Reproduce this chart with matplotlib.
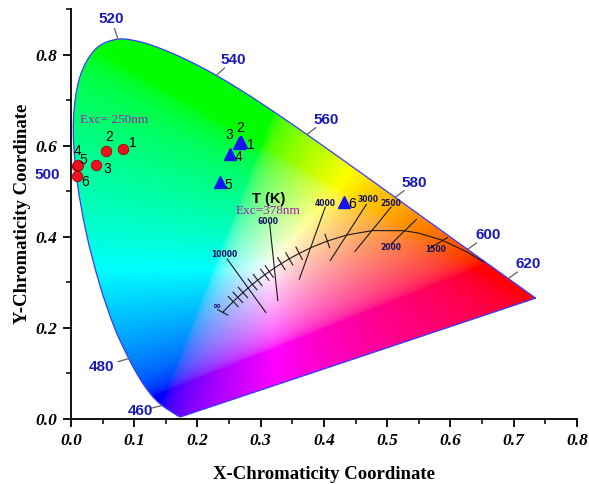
import numpy as np
import matplotlib.pyplot as plt
from matplotlib.patches import PathPatch
from matplotlib.path import Path

# CIE 1931 spectral locus (5 nm steps, 380-700 nm)
wl = [380, 385, 390, 395, 400, 405, 410, 415, 420, 425, 430, 435, 440, 445,
      450, 455, 460, 465, 470, 475, 480, 485, 490, 495, 500, 505, 510, 515,
      520, 525, 530, 535, 540, 545, 550, 555, 560, 565, 570, 575, 580, 585,
      590, 595, 600, 605, 610, 615, 620, 625, 630, 635, 640, 645, 650, 655,
      660, 665, 670, 675, 680, 685, 690, 695, 700]
loc_x = [0.1741, 0.1740, 0.1738, 0.1736, 0.1733, 0.1730, 0.1726, 0.1721,
         0.1714, 0.1703, 0.1689, 0.1669, 0.1644, 0.1611, 0.1566, 0.1510,
         0.1440, 0.1355, 0.1241, 0.1096, 0.0913, 0.0687, 0.0454, 0.0235,
         0.0082, 0.0039, 0.0139, 0.0389, 0.0743, 0.1142, 0.1547, 0.1929,
         0.2296, 0.2658, 0.3016, 0.3373, 0.3731, 0.4087, 0.4441, 0.4788,
         0.5125, 0.5448, 0.5752, 0.6029, 0.6270, 0.6482, 0.6658, 0.6801,
         0.6915, 0.7006, 0.7079, 0.7140, 0.7190, 0.7230, 0.7260, 0.7283,
         0.7300, 0.7311, 0.7320, 0.7327, 0.7334, 0.7340, 0.7344, 0.7346, 0.7347]
loc_y = [0.0050, 0.0050, 0.0049, 0.0049, 0.0048, 0.0048, 0.0048, 0.0048,
         0.0051, 0.0058, 0.0069, 0.0086, 0.0109, 0.0138, 0.0177, 0.0227,
         0.0297, 0.0399, 0.0578, 0.0868, 0.1327, 0.2007, 0.2950, 0.4127,
         0.5384, 0.6548, 0.7502, 0.8120, 0.8338, 0.8262, 0.8059, 0.7816,
         0.7543, 0.7243, 0.6923, 0.6589, 0.6245, 0.5896, 0.5547, 0.5202,
         0.4866, 0.4544, 0.4242, 0.3965, 0.3725, 0.3514, 0.3340, 0.3197,
         0.3083, 0.2993, 0.2920, 0.2859, 0.2809, 0.2770, 0.2740, 0.2717,
         0.2700, 0.2689, 0.2680, 0.2673, 0.2666, 0.2660, 0.2656, 0.2654, 0.2653]

# wavelength labels and where they sit
wl_marks = [460, 480, 500, 520, 540, 560, 580, 600, 620]
wl_lab_x = [0.110, 0.048, -0.038, 0.064, 0.257, 0.403, 0.543, 0.659, 0.723]
wl_lab_y = [0.018, 0.115, 0.535, 0.878, 0.788, 0.657, 0.518, 0.404, 0.340]

# Planckian locus
pl_T = [1000, 1200, 1500, 1800, 2000, 2500, 3000, 3500, 4000, 4500, 5000,
        5500, 6000, 6500, 7000, 8000, 9000, 10000, 12000, 15000, 20000, 30000]
pl_x = [0.6528, 0.6251, 0.5857, 0.5493, 0.5267, 0.4770, 0.4369, 0.4053,
        0.3805, 0.3608, 0.3451, 0.3325, 0.3221, 0.3135, 0.3064, 0.2952,
        0.2869, 0.2807, 0.2719, 0.2637, 0.2565, 0.2501]
pl_y = [0.3444, 0.3674, 0.3931, 0.4082, 0.4133, 0.4137, 0.4041, 0.3907,
        0.3768, 0.3636, 0.3516, 0.3411, 0.3318, 0.3237, 0.3166, 0.3048,
        0.2956, 0.2883, 0.2776, 0.2672, 0.2577, 0.2489]
inf_x, inf_y = 0.2399, 0.2341
tick_T = [3500, 4500, 5000, 5500, 6500, 7000, 8000, 9000, 12000, 15000, 20000]

# isotemperature lines
iso_lab = ['10000', '6000', '4000', '3000', '2500', '2000', '1500']
iso_x0 = [0.247, 0.314, 0.402, 0.467, 0.506, 0.546, 0.595]
iso_y0 = [0.351, 0.430, 0.465, 0.471, 0.465, 0.438, 0.398]
iso_x1 = [0.308, 0.327, 0.361, 0.410, 0.449, 0.506, 0.565]
iso_y1 = [0.234, 0.260, 0.307, 0.348, 0.368, 0.384, 0.373]
iso_lab_x = [0.243, 0.311, 0.402, 0.469, 0.505, 0.506, 0.576]
iso_lab_y = [0.362, 0.434, 0.474, 0.481, 0.472, 0.377, 0.371]

# samples
exc250_lab = ['1', '2', '3', '4', '5', '6']
exc250_x = [0.082, 0.055, 0.039, 0.009, 0.011, 0.009]
exc250_y = [0.592, 0.588, 0.557, 0.556, 0.558, 0.534]
exc378_lab = ['1', '2', '3', '4', '5', '6']
exc378_x = [0.269, 0.267, 0.266, 0.252, 0.236, 0.431]
exc378_y = [0.607, 0.609, 0.606, 0.581, 0.521, 0.476]

fig = plt.figure(figsize=(5.89, 4.84), dpi=100)
ax = fig.add_axes([0.1205, 0.1343, 0.8591, 0.8471])
PX, PY = 633.0, 456.0  # pixels per unit on each axis

# smooth horseshoe outline (Catmull-Rom through the locus points)
pts = np.column_stack([loc_x, loc_y])
n = len(pts)
verts, codes = [pts[0]], [Path.MOVETO]
for i in range(n - 1):
    p0, p1 = pts[max(i - 1, 0)], pts[i]
    p2, p3 = pts[i + 1], pts[min(i + 2, n - 1)]
    verts += [p1 + (p2 - p0) / 6, p2 - (p3 - p1) / 6, p2]
    codes += [Path.CURVE4] * 3
verts += [pts[0], pts[0]]
codes += [Path.LINETO, Path.CLOSEPOLY]
horse_path = Path(verts, codes)

# colour field clipped to the horseshoe
gx, gy = np.meshgrid(np.linspace(0, 0.8, 500), np.linspace(0.002, 0.9, 500))
XYZ = np.stack([gx / gy, np.ones_like(gx), (1 - gx - gy) / gy], -1)
M = np.array([[3.2406, -1.5372, -0.4986],
              [-0.9689, 1.8758, 0.0415],
              [0.0557, -0.2040, 1.0570]])
rgb = np.clip(XYZ @ M.T, 0, None)
rgb = rgb / rgb.max(axis=-1, keepdims=True)
rgb = np.where(rgb <= 0.0031308, 12.92 * rgb, 1.055 * rgb ** (1 / 2.4) - 0.055)
rgb = np.clip(rgb, 0, 1)
im = ax.imshow(rgb, origin='lower', extent=[0, 0.8, 0.002, 0.9],
               aspect='auto', interpolation='bilinear', zorder=1)
horse = PathPatch(horse_path, facecolor='none', edgecolor='#3a3aff',
                  lw=0.9, zorder=2)
ax.add_patch(horse)
im.set_clip_path(horse)

# wavelength labels with short gray ticks
blue = '#1a1ab8'
for w, lx, ly in zip(wl_marks, wl_lab_x, wl_lab_y):
    i = wl.index(w)
    px, py = loc_x[i], loc_y[i]
    dx, dy = (lx - px) * PX, (ly - py) * PY
    d = np.hypot(dx, dy)
    if w != 500:
        ax.plot([px, px + dx / d * 11 / PX], [py, py + dy / d * 11 / PY],
                color='#606060', lw=0.9, zorder=4, clip_on=False)
    ax.text(lx, ly, str(w), ha='center', va='center', color=blue,
            fontsize=11, fontweight='bold', family='Liberation Sans',
            zorder=5, clip_on=False)

# Planckian locus with ticks
ax.plot(pl_x + [inf_x], pl_y + [inf_y], color='#1a1a1a', lw=0.8, zorder=3)
for t in tick_T:
    i = pl_T.index(t)
    dx = (pl_x[i + 1] - pl_x[i - 1]) * PX
    dy = (pl_y[i + 1] - pl_y[i - 1]) * PY
    d = np.hypot(dx, dy)
    nx, ny = -dy / d * 7 / PX, dx / d * 7 / PY
    ax.plot([pl_x[i] - nx, pl_x[i] + nx], [pl_y[i] - ny, pl_y[i] + ny],
            color='#1a1a1a', lw=0.8, zorder=3)
ax.plot([inf_x - 0.008, inf_x + 0.008], [inf_y + 0.006, inf_y - 0.006],
        color='#1a1a1a', lw=0.8, zorder=3)
for x0, y0, x1, y1 in zip(iso_x0, iso_y0, iso_x1, iso_y1):
    ax.plot([x0, x1], [y0, y1], color='#1a1a1a', lw=0.8, zorder=3)
for s, lx, ly in zip(iso_lab, iso_lab_x, iso_lab_y):
    ax.text(lx, ly, s, ha='center', va='center', fontsize=5.5,
            fontweight='bold', color='#101060', zorder=5)
ax.text(0.230, 0.248, '\u221e', ha='center', va='center', fontsize=7,
        fontweight='bold', color='#101060', zorder=5)
ax.text(0.312, 0.483, 'T (K)', ha='center', va='center', fontsize=10.5,
        fontweight='bold', family='Liberation Sans', color='black', zorder=5)

# sample points
ax.plot(exc250_x, exc250_y, 'o', ms=7.5, mfc='#f01020', mec='#a00000',
        mew=0.6, zorder=6)
ax.plot(exc378_x, exc378_y, '^', ms=8, mfc='#1414f0', mec='#1414f0',
        zorder=6)
off250 = [(0.015, 0.013), (0.006, 0.030), (0.018, -0.008),
          (0.001, 0.033), (0.009, 0.010), (0.014, -0.014)]
off378 = [(0.016, -0.006), (0.000, 0.029), (-0.015, 0.017),
          (0.013, -0.006), (0.013, -0.007), (0.014, -0.004)]
for s, x, y, (ox, oy) in zip(exc250_lab, exc250_x, exc250_y, off250):
    ax.text(x + ox, y + oy, s, ha='center', va='center', fontsize=10,
            family='Liberation Sans', zorder=7)
for s, x, y, (ox, oy) in zip(exc378_lab, exc378_x, exc378_y, off378):
    ax.text(x + ox, y + oy, s, ha='center', va='center', fontsize=10,
            family='Liberation Sans', zorder=7)

purple = '#a020b0'
ax.text(0.015, 0.657, 'Exc= 250nm', ha='left', va='center', fontsize=9.5,
        family='Liberation Serif', color=purple, zorder=7)
ax.text(0.312, 0.457, 'Exc=378nm', ha='center', va='center', fontsize=9.5,
        family='Liberation Serif', color=purple, zorder=7)

# axes styling
ax.set_xlim(0, 0.8)
ax.set_ylim(0, 0.9)
for sp in ['top', 'right']:
    ax.spines[sp].set_visible(False)
for sp in ['left', 'bottom']:
    ax.spines[sp].set_linewidth(1.3)
ax.set_xticks(np.arange(0, 0.81, 0.1))
ax.set_xticks(np.arange(0.05, 0.8, 0.1), minor=True)
ax.set_yticks([0, 0.2, 0.4, 0.6, 0.8])
ax.set_yticks([0.1, 0.3, 0.5, 0.7, 0.9], minor=True)
ax.tick_params(which='major', direction='out', length=6, width=1.3, pad=4)
ax.tick_params(which='minor', direction='out', length=3.5, width=1.1)
ax.set_xticklabels(['%.1f' % v for v in np.arange(0, 0.81, 0.1)])
ax.set_yticklabels(['0.0', '0.2', '0.4', '0.6', '0.8'])
for lab in ax.get_xticklabels() + ax.get_yticklabels():
    lab.set_fontfamily('Liberation Serif')
    lab.set_fontweight('bold')
    lab.set_fontstyle('italic')
    lab.set_fontsize(12.5)
ax.set_xlabel('X-Chromaticity Coordinate', family='Liberation Serif',
              fontweight='bold', fontsize=13.5, labelpad=12)
ax.set_ylabel('Y-Chromaticity Coordinate', family='Liberation Serif',
              fontweight='bold', fontsize=13.5, labelpad=3)

fig.savefig('out.png', dpi=100)
